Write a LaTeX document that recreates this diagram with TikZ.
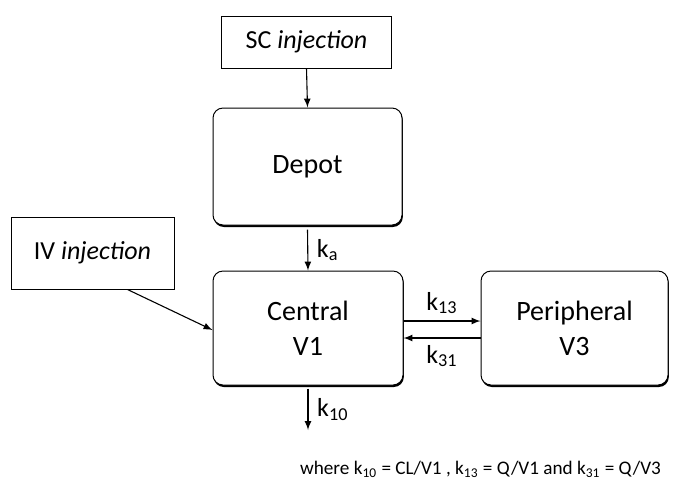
\documentclass[tikz,border=0pt]{standalone}
\usepackage{fontspec}
\setmainfont{Carlito}
\usetikzlibrary{shadows}
\begin{document}
\begin{tikzpicture}[x=0.5pt, y=-0.5pt,
        inbox/.style={draw, line width=0.5pt, inner sep=0pt, font=\fontsize{13}{15}\selectfont,
            drop shadow={shadow xshift=0.3pt, shadow yshift=-0.7pt, fill=black, opacity=1}, fill=white},
        comp/.style={draw, line width=0.5pt, rounded corners=5pt, inner sep=0pt, align=center,
            font=\fontsize{14}{17.5}\selectfont,
            drop shadow={shadow xshift=0.4pt, shadow yshift=-1pt, fill=black, opacity=1}, fill=white},
        rate/.style={font=\fontsize{13}{15}\selectfont},
        flow/.style={-latex, line width=0.55pt}]
        \useasboundingbox (0,0) rectangle (673,489);
        % dosing boxes
        \node[inbox, minimum width=85pt, minimum height=26pt] (sc) at (306.5,42) {SC \textit{injection}};
        \node[inbox, minimum width=81.5pt, minimum height=36pt] (iv) at (92.5,253) {IV \textit{injection}};
        % compartments
        \node[comp, minimum width=94.5pt, minimum height=58.5pt] (depot) at (307.5,166.5) {Depot};
        \node[comp, minimum width=95pt, minimum height=57pt] (central) at (308,328) {Central\\V1};
        \node[comp, minimum width=93.5pt, minimum height=57pt] (periph) at (574.5,328) {Peripheral\\V3};
        \coordinate (out) at (308,430);
        % transfers
        \draw[flow] (sc.south) -- (depot.north);
        \draw[flow] ([yshift=-2pt]depot.south) -- (central.north) node[midway, right, rate, xshift=1pt] {k\textsubscript{a}};
        \draw[flow] ([xshift=17.5pt]iv.south) -- ([yshift=-1pt]central.west);
        \draw[flow] ([yshift=3.5pt]central.east) -- ([yshift=3.5pt]periph.west) node[midway, above, rate] {k\textsubscript{13}};
        \draw[flow] ([yshift=-5pt]periph.west) -- ([yshift=-5pt]central.east) node[midway, below, rate] {k\textsubscript{31}};
        \draw[flow] ([yshift=-1.5pt]central.south) -- (out) node[midway, right, rate, xshift=1pt] {k\textsubscript{10}};
        \node[anchor=east, font=\fontsize{9.6}{12}\selectfont] (note) at (668,469)
            {where k\textsubscript{10} = CL/V1 , k\textsubscript{13} = Q/V1 and k\textsubscript{31} = Q/V3};
    \end{tikzpicture}
\end{document}
